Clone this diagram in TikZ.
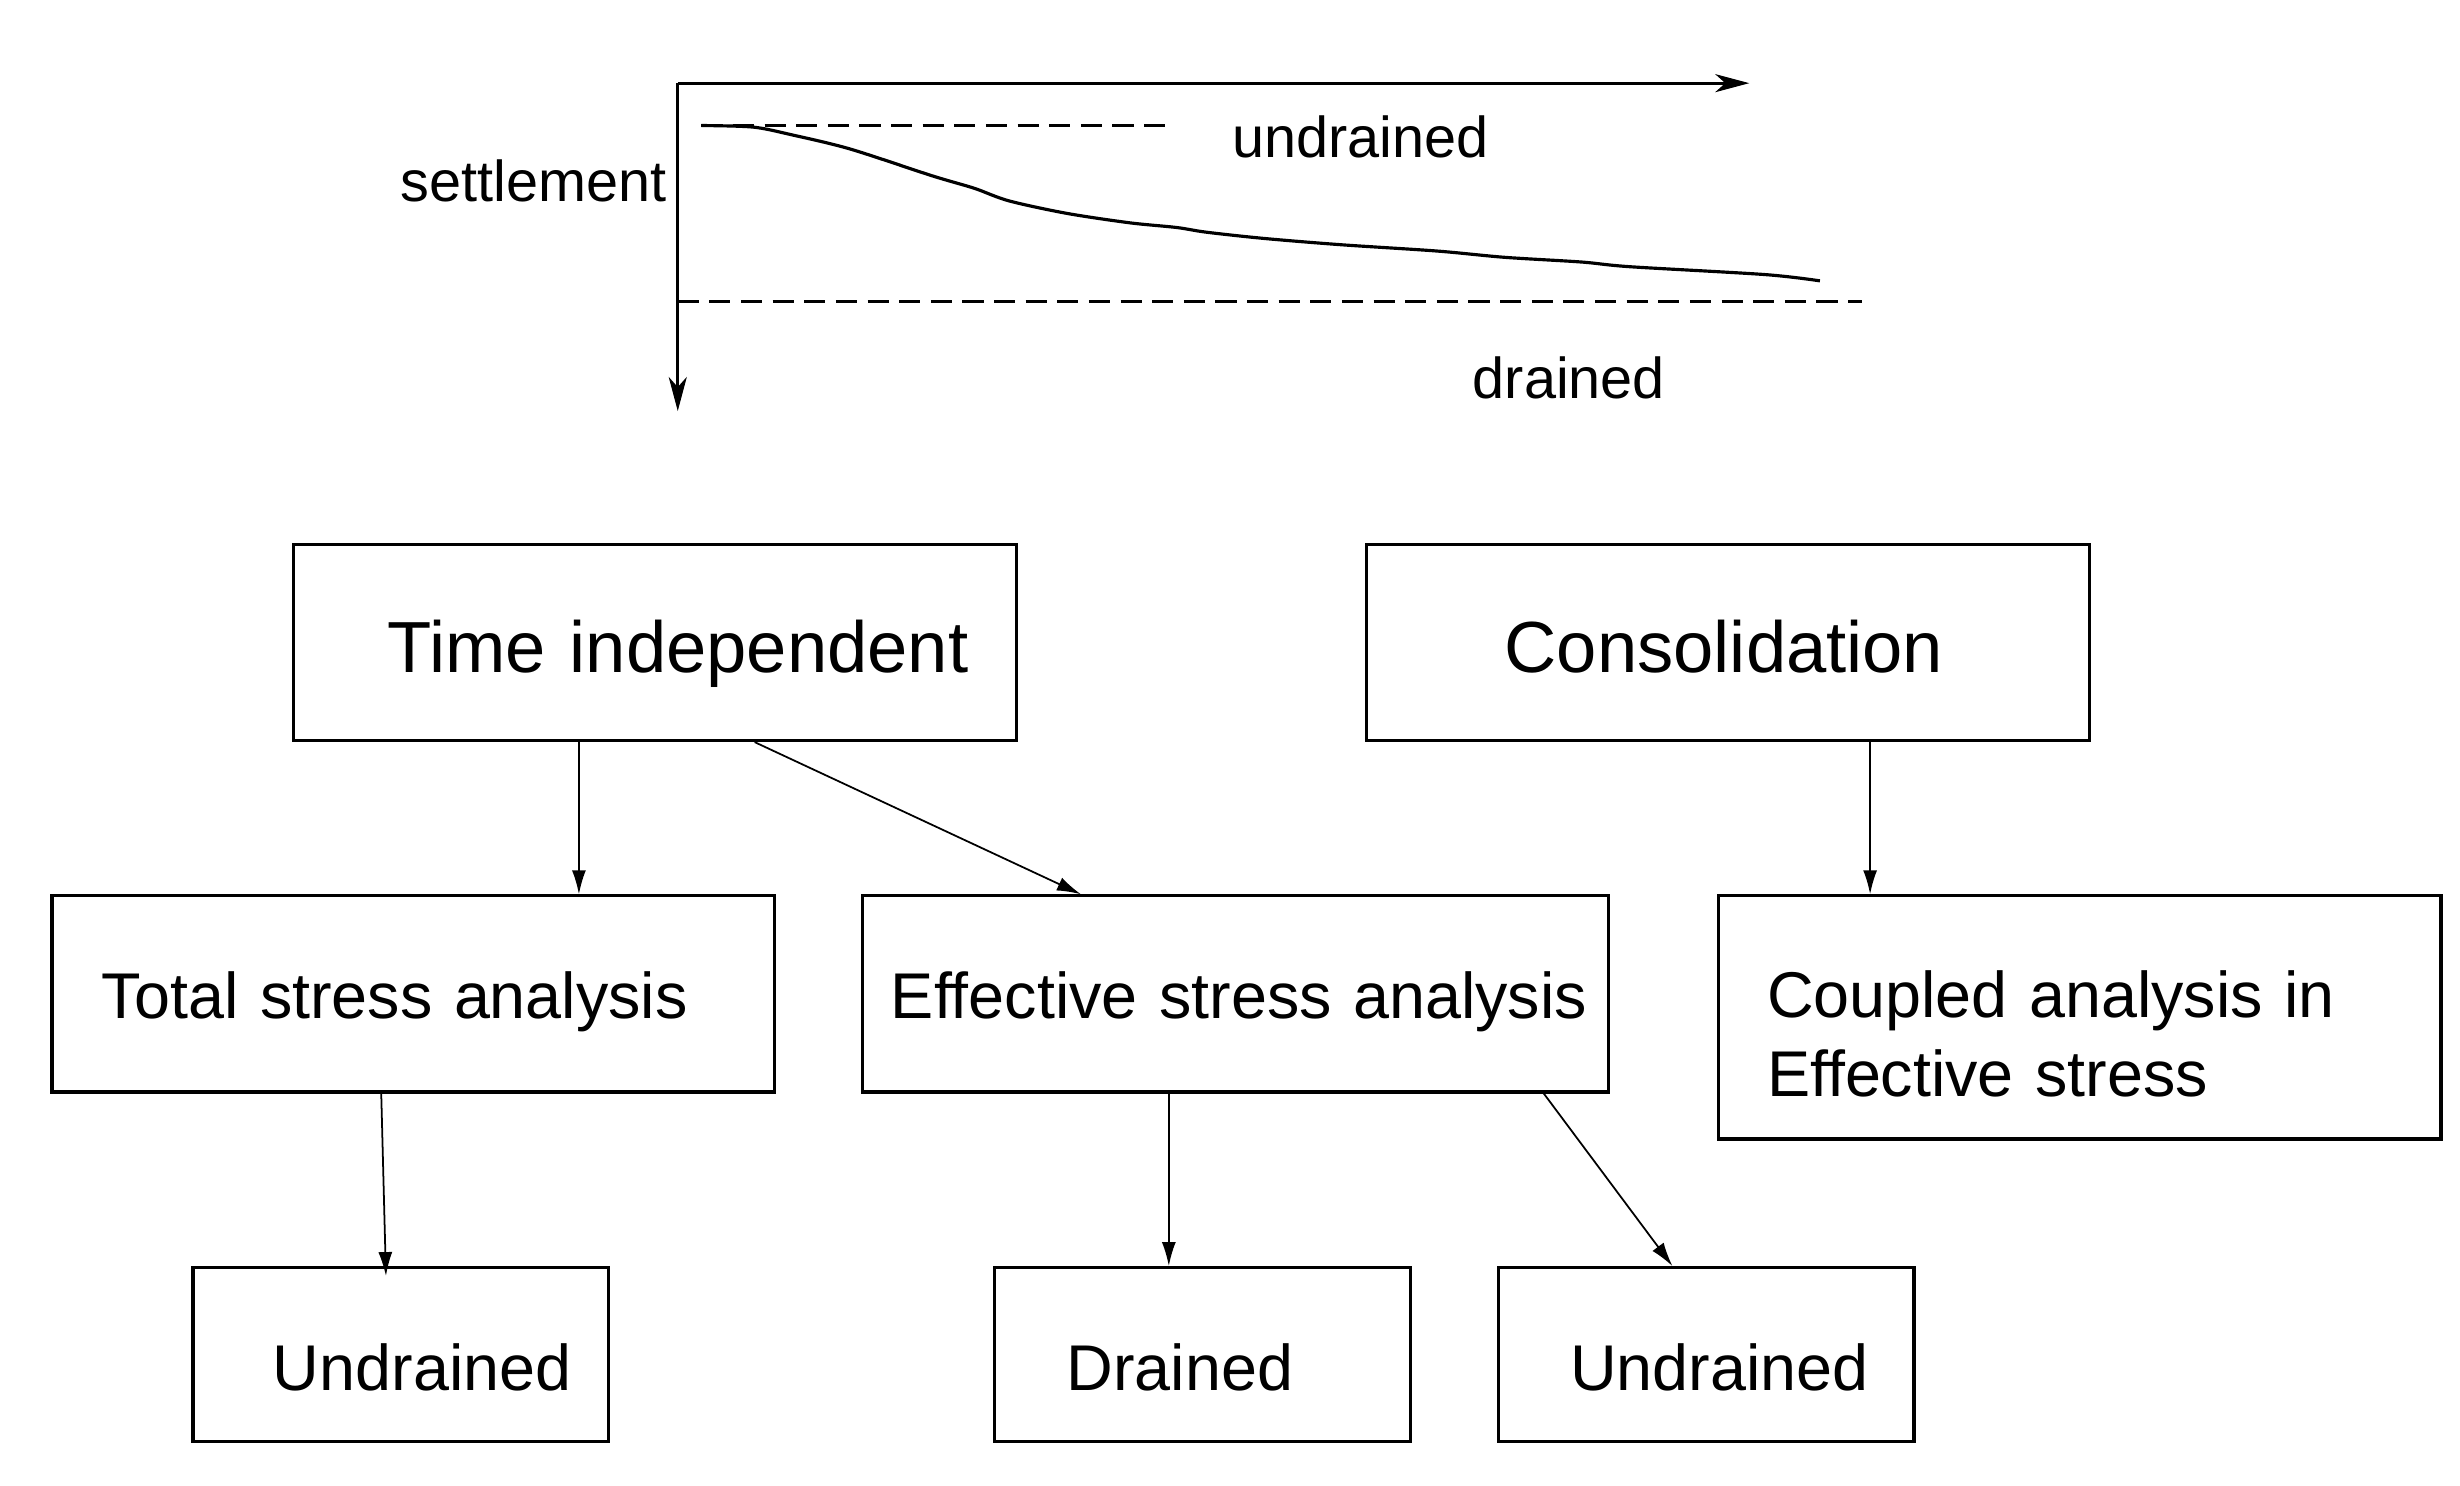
\documentclass[tikz,border=0pt]{standalone}
\usepackage{fontspec}
\setmainfont{Liberation Sans}
\usetikzlibrary{arrows.meta}

\tikzset{
  box/.style={draw, line width=0.9pt, inner sep=0pt, align=left},
  big/.style={font=\fontsize{20.6}{25}\selectfont, text height=0.596cm, text depth=0pt},
  small/.style={font=\fontsize{18.4}{22.4}\selectfont, text height=0.49cm, text depth=0pt},
  low/.style={text height=0.709cm, text depth=0pt},
  lab/.style={font=\fontsize{16.4}{20}\selectfont},
  arr/.style={-{Latex[length=2.4mm,width=1.4mm]}, line width=0.5pt},
  axis/.style={-{Stealth[length=3.4mm,width=1.8mm,inset=1mm]}, line width=0.9pt},
}

\begin{document}
\begin{tikzpicture}[x=0.1569mm,y=-0.1569mm]
    \useasboundingbox (0,0) rectangle (1568,947);

    % settlement against time
    \coordinate (O) at (432,53);
    \coordinate (Tend) at (1115,53);
    \coordinate (Send) at (432,262);
    \draw[axis] (O) -- (Tend);
    \draw[axis] (O) -- (Send);
    \draw[line width=0.9pt, dash pattern=on 6pt off 3pt] (447,80) -- (748,80);
    \draw[line width=0.9pt, dash pattern=on 6pt off 3pt] (432,192) -- (1187,192);
    \draw[line width=0.9pt] plot[smooth] coordinates {(447,80) (480,81) (505,86) (542,95)
        (594,112) (621,120) (643,128) (680,136) (720,142) (750,145) (769,148)
        (806,152) (855,156) (916,160) (959,164) (1008,167) (1039,170) (1125,175) (1160,179)};
    \node[lab] (set) at (340,115) {settlement};
    \node[lab] (und) at (867,87) {undrained};
    \node[lab] (dra) at (1000,241) {drained};

    % boxes
    \node[box,big,text width=7.23cm,minimum height=1.961cm] (T) at (417.5,409.5) {\hspace*{0.94cm}Time independent};
    \node[box,big,text width=7.23cm,minimum height=1.961cm] (C) at (1101.5,409.5) {\hspace*{1.38cm}Consolidation};
    \node[box,small,text width=7.23cm,minimum height=1.961cm] (T1) at (263.5,633.5) {\hspace*{0.5cm}Total stress analysis};
    \node[box,small,text width=7.453cm,minimum height=1.961cm] (T2) at (787.5,633.5) {\hspace*{0.28cm}Effective stress analysis};
    \node[box,small,inner xsep=0.49cm,text width=6.25cm,minimum height=2.432cm,text height=0.5cm,text depth=0.5cm] (C1) at (1325.5,648.5) {Coupled analysis in\\Effective stress};
    \node[box,small,low,text width=4.158cm,minimum height=1.742cm] (U1) at (255.5,863.5) {\hspace*{0.8cm}Undrained};
    \node[box,small,low,text width=4.158cm,minimum height=1.742cm] (D2) at (766.5,863.5) {\hspace*{0.72cm}Drained};
    \node[box,small,low,text width=4.158cm,minimum height=1.742cm] (U2) at (1087.5,863.5) {\hspace*{0.72cm}Undrained};

    % arrows
    \draw[arr] (T.south -| 369,0) -- (T1.north -| 369,0);
    \draw[arr] (T.south -| 481,0) -- (T2.north -| 689,0);
    \draw[arr] (C.south -| 1192,0) -- (C1.north -| 1192,0);
    \draw[arr] (T1.south -| 243,0) -- ([yshift=-1mm]U1.north -| 246,0);
    \draw[arr] (T2.south -| 745,0) -- (D2.north -| 745,0);
    \draw[arr] (T2.south -| 984,0) -- (U2.north -| 1066,0);

\end{tikzpicture}
\end{document}
